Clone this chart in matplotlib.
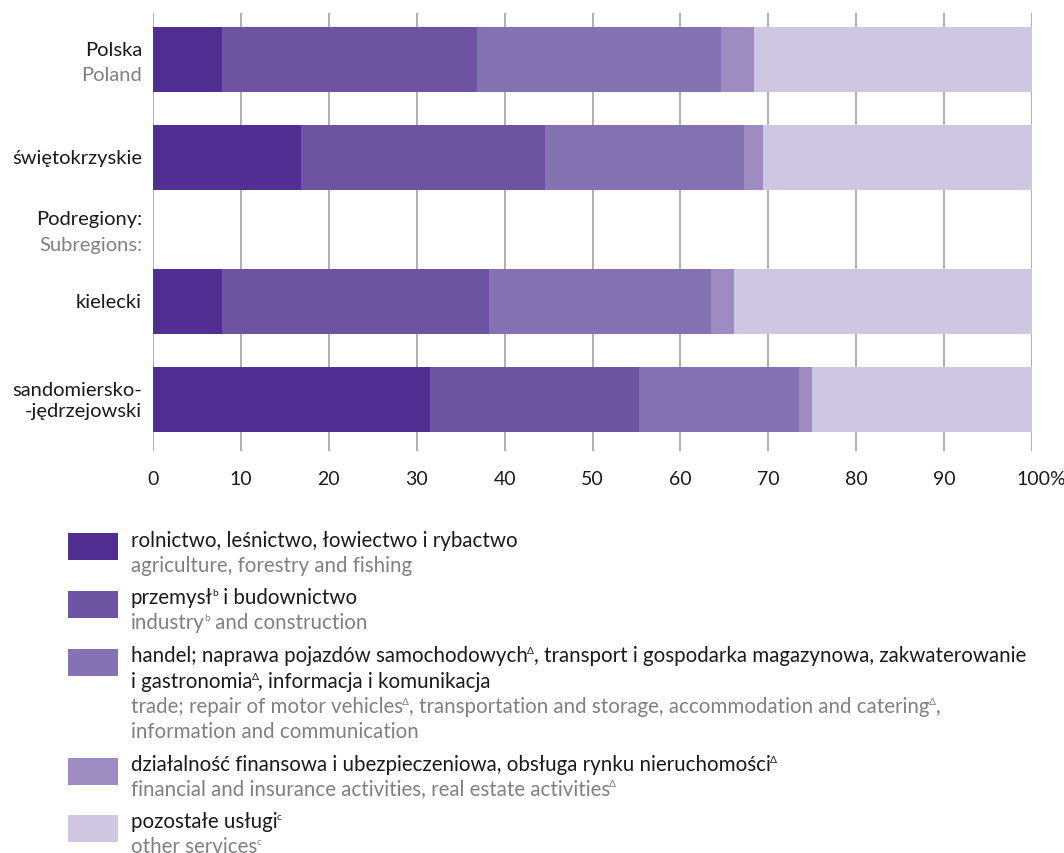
import re
import matplotlib
matplotlib.use("Agg")
import matplotlib.pyplot as plt
import matplotlib.transforms as mtransforms
from matplotlib.patches import Rectangle

FONT = "Lato"
plt.rcParams['font.family'] = [FONT, 'DejaVu Sans']

# ---------------- dane ----------------
regions_pl = ["Polska", "świętokrzyskie", "kielecki", "sandomiersko-\n-jędrzejowski"]
regions_en = ["Poland", "", "", ""]

rolnictwo  = [7.8, 16.8, 7.9, 31.5]
przemysl   = [29.1, 27.8, 30.3, 23.8]
handel     = [27.7, 22.6, 25.3, 18.2]
finanse    = [3.8, 2.2, 2.6, 1.5]
pozostale  = [31.6, 30.6, 33.9, 25.0]

x_ticks = [0, 10, 20, 30, 40, 50, 60, 70, 80, 90, 100]
x_ticklabels = ["0", "10", "20", "30", "40", "50", "60", "70", "80", "90", "100%"]

# {x} = indeks górny
legend_pl = [
    ["rolnictwo, leśnictwo, łowiectwo i rybactwo"],
    ["przemysł{b} i budownictwo"],
    ["handel; naprawa pojazdów samochodowych{Δ}, transport i gospodarka magazynowa, zakwaterowanie",
     "i gastronomia{Δ}, informacja i komunikacja"],
    ["działalność finansowa i ubezpieczeniowa, obsługa rynku nieruchomości{Δ}"],
    ["pozostałe usługi{c}"],
]
legend_en = [
    ["agriculture, forestry and fishing"],
    ["industry{b} and construction"],
    ["trade; repair of motor vehicles{Δ}, transportation and storage, accommodation and catering{Δ},",
     "information and communication"],
    ["financial and insurance activities, real estate activities{Δ}"],
    ["other services{c}"],
]

colors = ["#512e91", "#6d53a1", "#8572b3", "#9d8bc2", "#cfc6e1"]
series = [rolnictwo, przemysl, handel, finanse, pozostale]

BLACK = "#1a1a1a"
GREY = "#808080"

# ---------------- rysunek ----------------
W, H = 1064, 854
fig = plt.figure(figsize=(W / 100, H / 100), dpi=100)
renderer = fig.canvas.get_renderer()
ax = fig.add_axes([153 / W, 1 - 452 / H, (1032 - 153) / W, (452 - 14) / H])

# pozycje wierszy w pikselach (góra -> dół)
y_pos = [60.5, 158.5, 302.5, 400.5]
bar_h = 65

left = [0.0] * len(y_pos)
for vals, col in zip(series, colors):
    ax.barh(y_pos, vals, left=left, height=bar_h, color=col, zorder=3, linewidth=0)
    left = [l + v for l, v in zip(left, vals)]

ax.set_xlim(0, 100)
ax.set_ylim(452, 14)
for sp in ax.spines.values():
    sp.set_visible(False)
ax.set_yticks([])
ax.set_xticks(x_ticks)
ax.set_xticklabels(x_ticklabels, fontsize=14, color=BLACK)
ax.tick_params(axis='x', length=0, pad=14)
ax.grid(axis='x', color="#9a9a9a", linewidth=1.1, zorder=0)

# "100%" - liczba wyśrodkowana na linii
lab = ax.get_xticklabels()[-1]
lab.set_horizontalalignment('left')
lab.set_transform(lab.get_transform() + mtransforms.ScaledTranslation(-16 / 100, 0, fig.dpi_scale_trans))

# etykiety wierszy
FS = 14.5
tr = mtransforms.blended_transform_factory(fig.transFigure, ax.transData)
xl = 142 / W
ax.text(xl, 50, regions_pl[0], transform=tr, ha='right', va='center', fontsize=FS, color=BLACK)
ax.text(xl, 75, regions_en[0], transform=tr, ha='right', va='center', fontsize=FS, color=GREY)
ax.text(xl, 158.5, regions_pl[1], transform=tr, ha='right', va='center', fontsize=FS, color=BLACK)
ax.text(xl, 219, "Podregiony:", transform=tr, ha='right', va='center', fontsize=FS, color=BLACK)
ax.text(xl, 245, "Subregions:", transform=tr, ha='right', va='center', fontsize=FS, color=GREY)
ax.text(xl, 302.5, regions_pl[2], transform=tr, ha='right', va='center', fontsize=FS, color=BLACK)
ax.text(xl, 401, regions_pl[3], transform=tr, ha='right', va='center', fontsize=FS, color=BLACK,
        linespacing=1.35, multialignment='right')


def rich_line(x_px, y_px, line, color, size):
    # y_px = środek wysokości x; rysuje kawałki z indeksami górnymi
    x = x_px
    base = 1 - (y_px + 6) / H
    parts = re.split(r"\{(.*?)\}", line)
    for k, s in enumerate(parts):
        if not s:
            continue
        sup = k % 2 == 1
        t = fig.text(x / W, base + (8 / H if sup else 0), s, ha='left', va='baseline',
                     fontsize=size * 0.5 if sup else size, color=color)
        x += t.get_window_extent(renderer).width - (1 if not sup else 0)


# legenda
LFS = 14.8
sw_top = [534, 592, 650, 759, 816]
txt_pl_y = [[541], [598], [656, 682], [765], [822]]
txt_en_y = [[566], [623], [707, 732], [789], [847]]
for i in range(5):
    fig.patches.append(Rectangle((68 / W, 1 - (sw_top[i] + 27) / H), 50 / W, 27 / H,
                                 transform=fig.transFigure, color=colors[i], linewidth=0))
    for line, yy in zip(legend_pl[i], txt_pl_y[i]):
        rich_line(131, yy, line, BLACK, LFS)
    for line, yy in zip(legend_en[i], txt_en_y[i]):
        rich_line(131, yy, line, GREY, LFS)

fig.savefig("out.png", dpi=100)
